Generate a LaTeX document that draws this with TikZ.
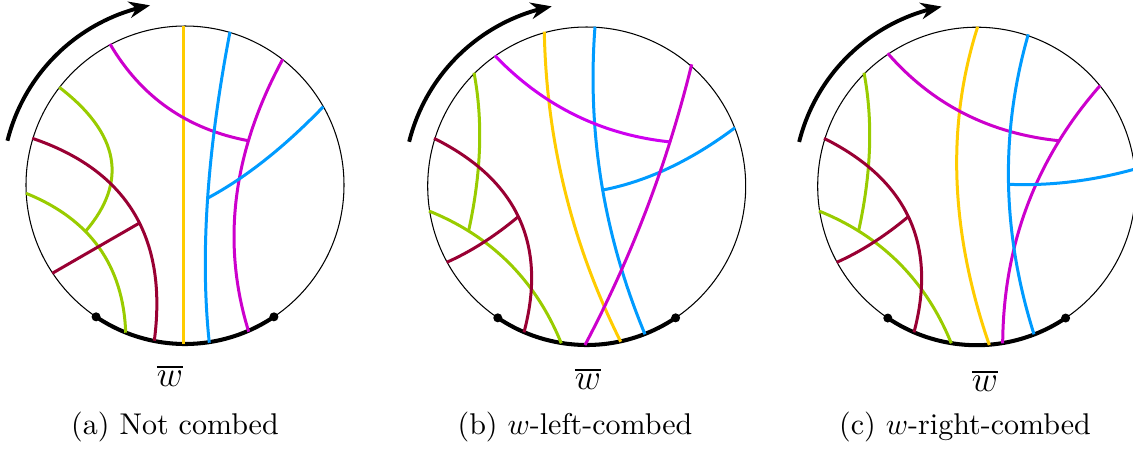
\documentclass[tikz,border=0pt]{standalone}
\usetikzlibrary{arrows.meta,calc,intersections}
\definecolor{cyel}{RGB}{255,204,0}
\definecolor{cblu}{RGB}{0,155,255}
\definecolor{cmag}{RGB}{204,0,204}
\definecolor{cmagb}{RGB}{206,0,240}
\definecolor{cgrn}{RGB}{153,204,0}
\definecolor{cred}{RGB}{153,0,51}
\tikzset{
  curve/.style={line width=1pt},
  rim/.style={line width=0.35pt},
  bold/.style={line width=1.35pt},
  turn/.style={line width=1.3pt, -{Stealth[length=7pt,width=5.5pt]}},
  dot/.style={fill=black},
  lbl/.style={inner sep=0pt, font=\large},
  captxt/.style={inner sep=0pt}
}
% quadratic-like curve from S through M (at t=1/2) to E
\newcommand\qcv[4]{\draw[#1] (#2) .. controls ($1.3333*(#3)-0.3333*(#4)$) and ($1.3333*(#3)-0.3333*(#2)$) .. (#4);}
\begin{document}
\begin{tikzpicture}[x=0.3333pt,y=-0.3333pt]
\useasboundingbox (0,0) rectangle (1133,451);
% ================= (a) =================
\draw[rim] (185,185) circle[radius=159];
\draw[turn] plot[domain=166:101,samples=40] ({185+183*cos(\x)},{185-183*sin(\x)});
\draw[bold] plot[domain=236:304,samples=40] ({185+159*cos(\x)},{185-159*sin(\x)});
\fill[dot] ({185+159*cos(236)},{185-159*sin(236)}) circle[radius=4.5];
\fill[dot] ({185+159*cos(304)},{185-159*sin(304)}) circle[radius=4.5];
\draw[curve,cyel] (183.7,25.7) -- (183.7,344);
% magenta
\qcv{curve,cmag,name path=aMR}{282.7,59.3}{236.5,197}{248.7,331.7}
\path[name path=ta1] (168,108) -- ($(168,108)!1.6!(246.7,140)$);
\path[name intersections={of=aMR and ta1, by=ja1}];
\qcv{curve,cmag}{110,44}{168,108}{ja1}
% blue
\qcv{curve,cblu,name path=aBL}{230,31.7}{207.5,200}{209.3,342.7}
\path[name path=ta2] (265,160) -- ($(265,160)!1.6!(208.3,197.7)$);
\path[name intersections={of=aBL and ta2, by=ja2}];
\qcv{curve,cblu}{323.3,106.7}{265,160}{ja2}
% green
\qcv{curve,cgrn,name path=aGL}{26,193.3}{99,247.5}{125.7,332.7}
\path[name path=ta3] (111,158) -- ($(111,158)!1.6!(86,230)$);
\path[name intersections={of=aGL and ta3, by=ja3}];
\qcv{curve,cgrn}{59.3,87.3}{111,158}{ja3}
% red
\qcv{curve,cred,name path=aRM}{32.3,138.3}{134,213}{154.3,340.7}
\path[name path=ta4] (97,247.5) -- ($(97,247.5)!1.6!(140,222.7)$);
\path[name intersections={of=aRM and ta4, by=ja4}];
\qcv{curve,cred}{52.3,273.3}{97,247.5}{ja4}
\node[lbl] (wa) at (170,376) {$\overline{w}$};
\node[captxt] (ca) at (175,427) {(a) Not combed};
% ================= (b) =================
\draw[rim] (586.7,186) circle[radius=159];
\draw[turn] plot[domain=166:101,samples=40] ({586.7+183*cos(\x)},{186-183*sin(\x)});
\draw[bold] plot[domain=236:304,samples=40] ({586.7+159*cos(\x)},{186-159*sin(\x)});
\fill[dot] ({586.7+159*cos(236)},{186-159*sin(236)}) circle[radius=4.5];
\fill[dot] ({586.7+159*cos(304)},{186-159*sin(304)}) circle[radius=4.5];
% yellow
\qcv{curve,cyel}{544.3,31.7}{565,191}{620.7,341.7}
% blue
\qcv{curve,cblu,name path=bBM}{595,26.7}{601.5,183}{645,334.3}
\path[name path=tb1] (669,168) -- ($(669,168)!1.6!(602.7,190)$);
\path[name intersections={of=bBM and tb1, by=jb1}];
\qcv{curve,cblu}{735,127.7}{669,168}{jb1}
% magenta
\qcv{curve,cmag,name path=bML}{691.7,64.3}{647,208}{585,345}
\path[name path=tb2] (575,115) -- ($(575,115)!1.6!(669.3,141.7)$);
\path[name intersections={of=bML and tb2, by=jb2}];
\qcv{curve,cmagb}{495,55.7}{575,115}{jb2}
% green
\qcv{curve,cgrn,name path=bGL}{429,211}{509,263}{561.3,343.3}
\path[name path=tb3] (479.5,148) -- ($(479.5,148)!1.6!(469,227.7)$);
\path[name intersections={of=bGL and tb3, by=jb3}];
\qcv{curve,cgrn}{474,72.7}{479.5,148}{jb3}
% red
\qcv{curve,cred,name path=bRM}{434,138.3}{519,218}{524,332.3}
\path[name path=tb4] (482.5,243) -- ($(482.5,243)!1.6!(518.3,216.7)$);
\path[name intersections={of=bRM and tb4, by=jb4}];
\qcv{curve,cred}{446.7,262.3}{482.5,243}{jb4}
\node[lbl] (wb) at (588,379) {$\overline{w}$};
\node[captxt] (cb) at (575,427) {(b) $w$-left-combed};
% ================= (c) =================
\draw[rim] (976.7,186.2) circle[radius=159];
\draw[turn] plot[domain=166:101,samples=40] ({976.7+183*cos(\x)},{186.2-183*sin(\x)});
\draw[bold] plot[domain=236:304,samples=40] ({976.7+159*cos(\x)},{186.2-159*sin(\x)});
\fill[dot] ({976.7+159*cos(236)},{186.2-159*sin(236)}) circle[radius=4.5];
\fill[dot] ({976.7+159*cos(304)},{186.2-159*sin(304)}) circle[radius=4.5];
% yellow
\qcv{curve,cyel}{977.7,26.7}{957,180}{989.3,345}
% magenta
\qcv{curve,cmag,name path=cMR}{1100,85.7}{1027.5,205}{1002.7,343.3}
\path[name path=tc1] (964,113.5) -- ($(964,113.5)!1.6!(1056.7,140)$);
\path[name intersections={of=cMR and tc1, by=jc1}];
\qcv{curve,cmag}{887.7,53.3}{964,113.5}{jc1}
% blue
\qcv{curve,cblu,name path=cBM}{1028.3,34.3}{1008.5,183}{1034,334.3}
\path[name path=tc2] (1071,181.8) -- ($(1071,181.8)!1.6!(1008.3,184.3)$);
\path[name intersections={of=cBM and tc2, by=jc2}];
\qcv{curve,cblu}{1134,169.3}{1071,181.8}{jc2}
% green
\qcv{curve,cgrn,name path=cGL}{819,211}{899,263}{951.3,343.3}
\path[name path=tc3] (869.5,148) -- ($(869.5,148)!1.6!(859,227.7)$);
\path[name intersections={of=cGL and tc3, by=jc3}];
\qcv{curve,cgrn}{864,72.7}{869.5,148}{jc3}
% red
\qcv{curve,cred,name path=cRM}{824,138.3}{909,218}{914,332.3}
\path[name path=tc4] (872.5,243) -- ($(872.5,243)!1.6!(908.3,216.7)$);
\path[name intersections={of=cRM and tc4, by=jc4}];
\qcv{curve,cred}{836.7,262.3}{872.5,243}{jc4}
\node[lbl] (wc) at (985,381) {$\overline{w}$};
\node[captxt] (cc) at (965,427) {(c) $w$-right-combed};
\end{tikzpicture}
\end{document}
